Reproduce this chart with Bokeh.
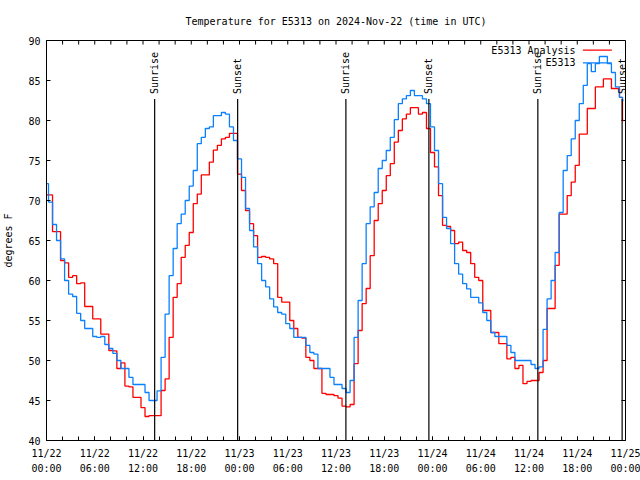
from bokeh.plotting import figure
from bokeh.models import Range1d, FixedTicker
from bokeh.embed import file_html
from bokeh.resources import INLINE
from bokeh.core.properties import value
from math import pi

# ---- data (hours since 2024-11-22 00:00 UTC) ----
hours = [i / 2 for i in range(144)] + [71.75]

analysis = [
    70.7, 70.7, 66.1, 66.1, 62.5, 62.2, 60.4, 60.6, 59.6, 59.7,
    56.75, 56.75, 55.2, 55.2, 53.3, 53.3, 51.25, 51.2, 49.0, 49.7,
    46.8, 46.7, 45.4, 45.4, 44.1, 43.0, 43.1, 43.1, 43.1, 46.25,
    47.7, 52.9, 57.9, 59.6, 62.9, 64.4, 66.0, 69.6, 70.8, 73.2,
    73.2, 74.8, 76.3, 76.9, 77.7, 77.9, 78.4, 78.4, 73.3, 71.25,
    68.75, 67.1, 65.6, 62.9, 63.0, 62.9, 62.7, 62.1, 57.9, 57.3,
    57.3, 55.0, 54.0, 52.9, 52.8, 50.4, 50.0, 49.0, 49.0, 45.9,
    45.75, 45.75, 45.6, 45.3, 44.3, 44.2, 44.5, 49.6, 53.75, 57.1,
    59.0, 63.1, 67.5, 69.6, 71.25, 73.1, 74.6, 77.3, 78.75, 80.2,
    80.8, 81.6, 81.6, 80.8, 81.0, 79.0, 76.0, 74.2, 70.6, 66.9,
    66.75, 66.25, 64.6, 64.8, 63.75, 63.5, 62.1, 60.4, 60.0, 56.25,
    56.25, 53.5, 53.5, 52.1, 52.1, 50.2, 50.4, 49.0, 49.4, 47.1,
    47.4, 47.5, 47.5, 48.5, 50.0, 56.5, 56.5, 61.9, 68.3, 68.3,
    70.6, 72.3, 74.4, 78.3, 78.3, 81.5, 81.5, 84.2, 84.2, 85.2,
    85.2, 84.0, 84.0, 82.9,
    80.0,
]

observed = [
    72.1, 69.8, 67.0, 65.0, 62.7, 60.0, 58.3, 58.0, 55.9, 55.0,
    54.0, 54.0, 53.0, 52.9, 53.0, 52.0, 51.5, 50.9, 50.0, 49.0,
    49.0, 47.9, 47.0, 47.0, 47.0, 46.0, 45.0, 45.0, 46.2, 50.4,
    55.8, 60.6, 64.0, 67.1, 68.3, 70.0, 71.8, 73.75, 77.1, 77.9,
    79.0, 79.2, 80.6, 80.6, 81.0, 80.8, 79.2, 77.5, 75.2, 72.9,
    69.0, 66.25, 64.2, 62.1, 60.0, 59.2, 57.7, 56.7, 56.0, 55.8,
    54.6, 54.0, 52.9, 52.9, 52.9, 51.9, 51.0, 50.8, 49.0, 49.0,
    49.0, 47.9, 47.0, 47.0, 46.5, 46.0, 47.5, 52.9, 57.5, 62.1,
    67.1, 69.2, 71.0, 74.0, 75.0, 76.25, 77.9, 80.1, 82.1, 82.7,
    83.1, 83.75, 83.1, 83.1, 82.7, 82.1, 79.2, 76.25, 72.1, 67.9,
    66.5, 64.6, 62.1, 60.8, 59.6, 58.95, 57.9, 57.9, 57.2, 56.0,
    55.0, 53.5, 53.0, 53.0, 53.0, 51.9, 51.0, 50.0, 50.0, 50.0,
    50.0, 49.5, 49.0, 49.2, 53.9, 57.7, 60.0, 63.5, 68.5, 73.75,
    75.6, 77.7, 80.0, 82.1, 84.4, 87.1, 86.1, 87.1, 88.0, 88.0,
    87.1, 86.0, 84.2, 82.9,
    82.5,
]

sun_hours = [13.45, 23.77, 37.23, 47.55, 61.1, 71.58]
sun_labels = ["Sunrise", "Sunset", "Sunrise", "Sunset", "Sunrise", "Sunset"]

tick_hours = [0, 6, 12, 18, 24, 30, 36, 42, 48, 54, 60, 66, 72]
tick_labels = ["11/22\n00:00", "11/22\n06:00", "11/22\n12:00", "11/22\n18:00",
               "11/23\n00:00", "11/23\n06:00", "11/23\n12:00", "11/23\n18:00",
               "11/24\n00:00", "11/24\n06:00", "11/24\n12:00", "11/24\n18:00",
               "11/25\n00:00"]
minor_hours = list(range(0, 73, 2))
y_ticks = [40, 45, 50, 55, 60, 65, 70, 75, 80, 85, 90]

series_names = ["E5313 Analysis", "E5313"]
series_colors = ["#ff0000", "#0a80ff"]

FONT = "DejaVu Sans Mono"
FS = "10px"
X0, X1, Y0, Y1 = 0, 72, 40, 90

p = figure(width=640, height=480, output_backend="svg", toolbar_location=None,
           x_range=Range1d(X0, X1), y_range=Range1d(Y0, Y1),
           min_border_left=46, min_border_right=15, min_border_top=40, min_border_bottom=40,
           title="Temperature for E5313 on 2024-Nov-22 (time in UTC)")
p.title.text_font = FONT
p.title.text_font_size = FS
p.title.text_font_style = "normal"
p.title.align = "center"
p.title.text_color = "black"
p.title.standoff = 27
p.xgrid.visible = False
p.ygrid.visible = False
p.outline_line_color = "black"
p.outline_line_width = 1
p.background_fill_color = "white"
p.border_fill_color = "white"

def style_axis(ax):
    ax.axis_line_color = "black"
    ax.major_tick_line_color = "black"
    ax.minor_tick_line_color = "black"
    ax.major_tick_in = 4
    ax.major_tick_out = 0
    ax.minor_tick_in = 4
    ax.minor_tick_out = 0
    ax.major_label_text_font = FONT
    ax.major_label_text_font_size = FS
    ax.major_label_text_color = "black"

xa = p.xaxis[0]
xa.ticker = FixedTicker(ticks=tick_hours, minor_ticks=minor_hours)
style_axis(xa)
xa.major_label_overrides = {t: l for t, l in zip(tick_hours, tick_labels)}
xa.major_label_standoff = 7
xa.major_label_text_line_height = 1.4

ya = p.yaxis[0]
ya.ticker = FixedTicker(ticks=y_ticks, minor_ticks=[])
style_axis(ya)
ya.major_label_standoff = 6
ya.axis_label = "degrees F"
ya.axis_label_text_font = FONT
ya.axis_label_text_font_size = FS
ya.axis_label_text_font_style = "normal"
ya.axis_label_text_color = "black"
ya.axis_label_standoff = 11

# mirrored inward ticks on top and right edges
TX = 0.5   # tick length in data units (~4 px)
p.segment(x0=minor_hours, y0=[Y1] * len(minor_hours), x1=minor_hours,
          y1=[Y1 - TX] * len(minor_hours), line_color="black", line_width=1)
p.segment(x0=[X1] * len(y_ticks), y0=y_ticks, x1=[X1 - TX] * len(y_ticks), y1=y_ticks,
          line_color="black", line_width=1)

# data lines
p.step(hours, analysis, mode="center", line_color=series_colors[0], line_width=1.3)
p.step(hours, observed, mode="center", line_color=series_colors[1], line_width=1.3)

# sunrise / sunset markers
p.segment(x0=sun_hours, y0=[Y0] * len(sun_hours), x1=sun_hours, y1=[82.7] * len(sun_hours),
          line_color="black", line_width=1.2)
p.text(x=sun_hours, y=[83.3] * len(sun_hours), text=sun_labels, angle=pi / 2,
       text_align="left", text_baseline="middle", text_font=value(FONT),
       text_font_size=value(FS), text_color="black")

# legend (gnuplot style: text then line sample)
leg_y = [88.8, 87.2]
p.text(x=[65.8, 65.8], y=leg_y, text=series_names, text_align="right",
       text_baseline="middle", text_font=value(FONT), text_font_size=value(FS),
       text_color="black")
for yy, col in zip(leg_y, series_colors):
    p.segment(x0=[66.7], y0=[yy], x1=[70.3], y1=[yy], line_color=col, line_width=1.3)

open("out.html", "w").write(file_html(p, INLINE))
